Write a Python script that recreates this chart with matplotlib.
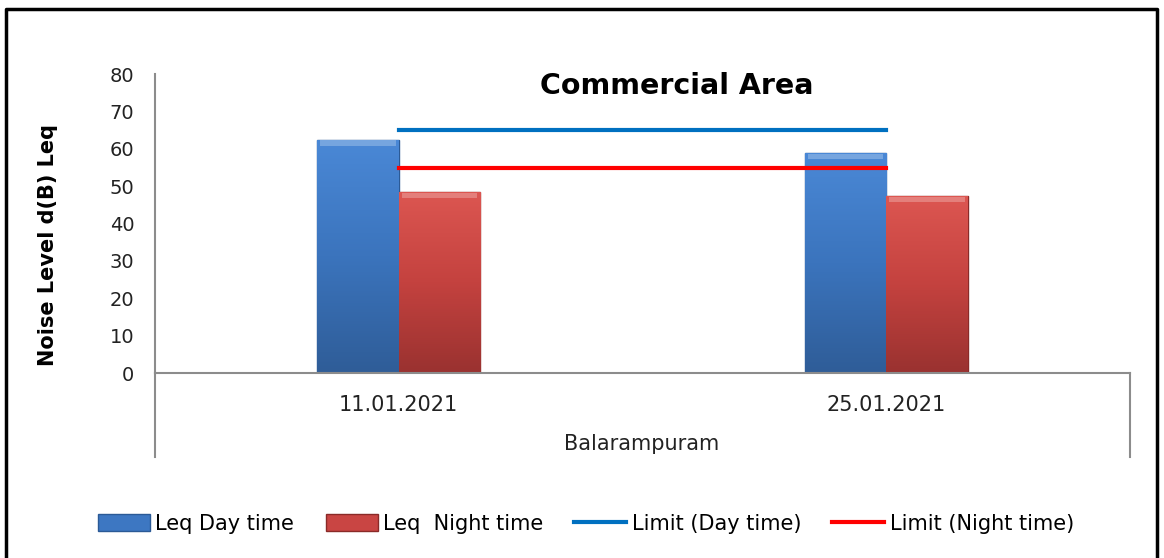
import numpy as np
import matplotlib.pyplot as plt
from matplotlib.colors import LinearSegmentedColormap
from matplotlib.lines import Line2D
from matplotlib.patches import Patch

dates = ["11.01.2021", "25.01.2021"]
day_leq = [62.5, 58.9]
night_leq = [48.5, 47.3]
day_limit = [65, 65]
night_limit = [55, 55]
location = "Balarampuram"

fig = plt.figure(figsize=(11.64, 5.58), dpi=100)
ax = fig.add_axes([0.1332, 0.3315, 0.8376, 0.5355])

x = np.arange(len(dates))
w = 0.167

blue_bars = ax.bar(x - w / 2, day_leq, w, color="#3d77c2", edgecolor="#2b5a96", linewidth=1, zorder=2)
red_bars = ax.bar(x + w / 2, night_leq, w, color="#c94543", edgecolor="#8a2a28", linewidth=1, zorder=2)

# vertical gradient on each bar, a bit like the excel bevel look
blue_cmap = LinearSegmentedColormap.from_list("b", ["#2f5d98", "#3b74bd", "#4a88d6"])
red_cmap = LinearSegmentedColormap.from_list("r", ["#9a3230", "#c4423f", "#dc5651"])
grad = np.linspace(0, 1, 100).reshape(-1, 1)
for bars, cmap in [(blue_bars, blue_cmap), (red_bars, red_cmap)]:
    for b in bars:
        x0, h = b.get_x(), b.get_height()
        im = ax.imshow(grad, extent=[x0, x0 + b.get_width(), 0, h], origin="lower",
                       cmap=cmap, aspect="auto", zorder=2.1)
        im.set_clip_path(b)
        # light strip at the top
        ax.fill_between([x0 + 0.006, x0 + b.get_width() - 0.006], h - 1.6, h - 0.2,
                        color="white", alpha=0.25, lw=0, zorder=2.2)

ax.plot(x, day_limit, color="#0070c0", lw=3, zorder=3)
ax.plot(x, night_limit, color="#ff0000", lw=3, zorder=3)

ax.set_xlim(-0.5, 1.5)
ax.set_ylim(0, 80)
ax.set_yticks(range(0, 81, 10))
ax.set_xticks(x, dates)
ax.tick_params(axis="y", length=0, pad=15, labelsize=14, colors="#222222")
ax.tick_params(axis="x", length=0, pad=16, labelsize=15, colors="#222222")

for s in ["top", "right"]:
    ax.spines[s].set_visible(False)
for s in ["left", "bottom"]:
    ax.spines[s].set_color("#8c8c8c")
    ax.spines[s].set_linewidth(1.5)

# category box lines below the axis
for xx in [0, 1]:
    ax.add_line(Line2D([xx, xx], [0, -0.281], transform=ax.transAxes, color="#8c8c8c",
                       lw=1.5, clip_on=False))

ax.text(0.535, 0.962, "Commercial Area", transform=ax.transAxes, ha="center", va="center",
        fontsize=20.5, fontweight="bold")

fig.text(642 / 1164, 1 - 444 / 558, location, ha="center", va="center", fontsize=15, color="#222222")
fig.text(48 / 1164, 1 - 245 / 558, "Noise Level d(B) Leq", rotation=90, ha="center", va="center",
         fontsize=15, fontweight="bold")

# outer frame
fig.add_artist(Line2D([6 / 1164, 6 / 1164, 1157 / 1164, 1157 / 1164], [0, 1 - 9 / 558, 1 - 9 / 558, 0],
                      transform=fig.transFigure, color="black", lw=2.5))

handles = [
    Patch(facecolor="#3d77c2", edgecolor="#2b5a96", label="Leq Day time"),
    Patch(facecolor="#c94543", edgecolor="#8a2a28", label="Leq  Night time"),
    Line2D([], [], color="#0070c0", lw=3, label="Limit (Day time)"),
    Line2D([], [], color="#ff0000", lw=3, label="Limit (Night time)"),
]
fig.legend(handles=handles, loc="center", bbox_to_anchor=(586 / 1164, 1 - 524 / 558), ncol=4,
           frameon=False, prop={"size": 15},
           handlelength=2.5, handleheight=0.9, handletextpad=0.25, columnspacing=1.5)

fig.savefig("out.png", dpi=100)
